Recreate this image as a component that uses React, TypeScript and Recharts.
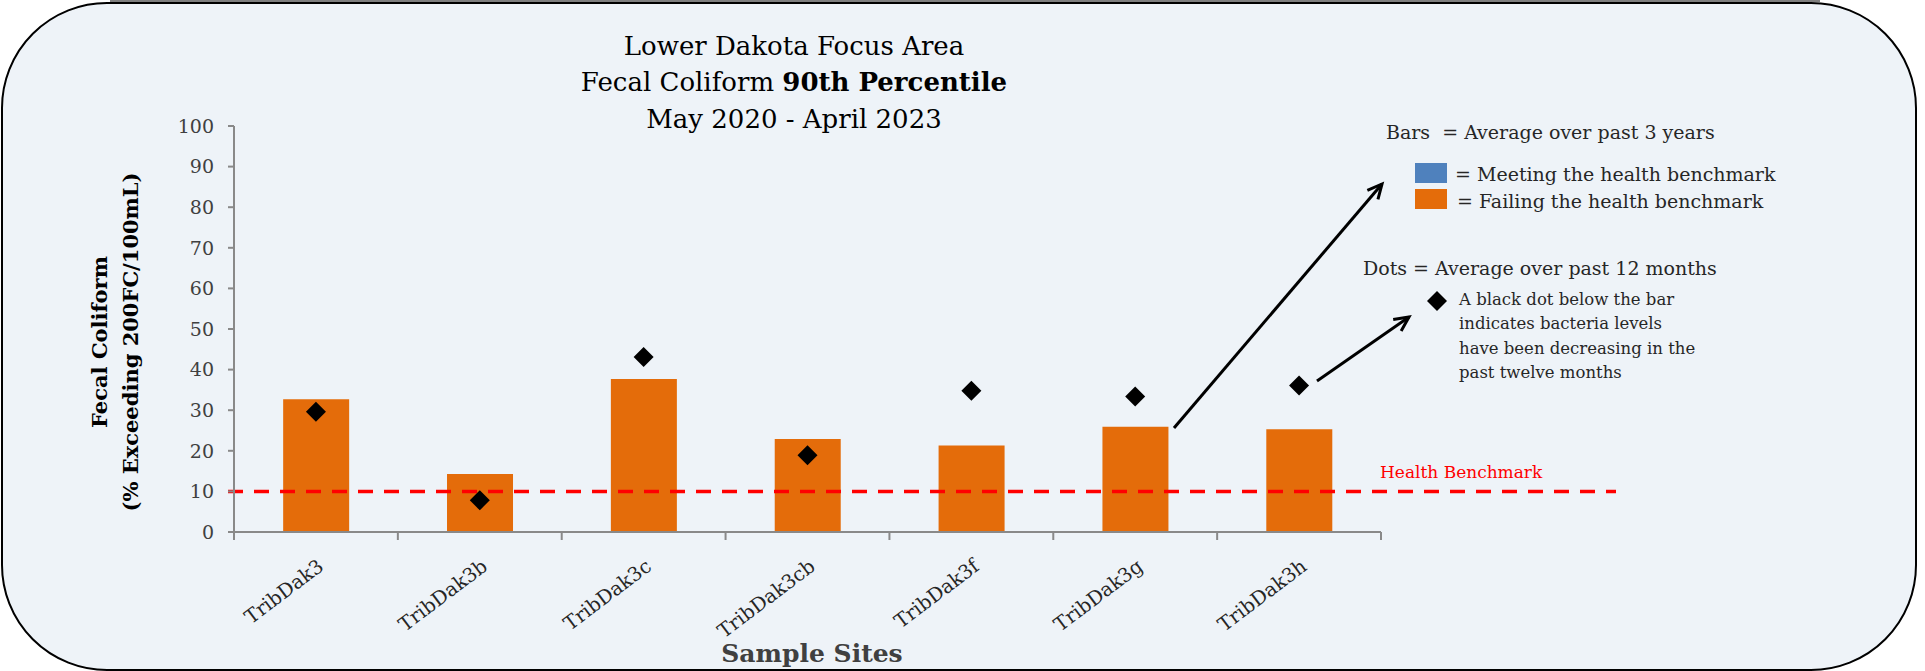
import React from "react";
import {
  ComposedChart,
  Bar,
  Scatter,
  XAxis,
  YAxis,
  ReferenceLine,
} from "recharts";

// sample sites along the x axis
const sites = [
  "TribDak3",
  "TribDak3b",
  "TribDak3c",
  "TribDak3cb",
  "TribDak3f",
  "TribDak3g",
  "TribDak3h",
];

// % exceeding 200FC/100mL, average over past 3 years (bars)
const threeYearAvg = [32.7, 14.3, 37.7, 22.9, 21.3, 25.9, 25.3];

// % exceeding 200FC/100mL, average over past 12 months (dots)
const twelveMonthAvg = [29.6, 7.8, 43.1, 18.9, 34.8, 33.4, 36.1];

const yTicks = [0, 10, 20, 30, 40, 50, 60, 70, 80, 90, 100];
const healthBenchmark = 10;

const data = sites.map((site, i) => ({
  site,
  bars: threeYearAvg[i],
  dots: twelveMonthAvg[i],
}));

const FONT = "'DejaVu Serif', serif";
const colors = {
  failing: "#E46C0A",
  meeting: "#4F81BD",
  axis: "#898989",
  text: "#404040",
  bench: "#FF0000",
  bg: "#EEF3F8",
};

const W = 1925;
const H = 671;

interface TickProps {
  x?: number;
  y?: number;
  index?: number;
  payload?: { value: string; offset?: number };
}

const SiteTick = ({ x = 0, y = 0, index = 0, payload }: TickProps) => {
  const off = payload?.offset ?? 0;
  const last = index === sites.length - 1;
  return (
    <g>
      <line x1={x - off} y1={y} x2={x - off} y2={y + 8} stroke={colors.axis} strokeWidth={2} />
      {last && (
        <line x1={x + off} y1={y} x2={x + off} y2={y + 8} stroke={colors.axis} strokeWidth={2} />
      )}
      <g transform={`translate(${x + 9},${y + 37}) rotate(-37)`}>
        <text
          x={0}
          y={0}
          textAnchor="end"
          fontFamily={FONT}
          fontSize={19.5}
          fill="#262626"
        >
          {payload?.value}
        </text>
      </g>
    </g>
  );
};

const Diamond = (props: { cx?: number; cy?: number }) => {
  const { cx = 0, cy = 0 } = props;
  const r = 10;
  return (
    <polygon
      points={`${cx},${cy - r} ${cx + r},${cy} ${cx},${cy + r} ${cx - r},${cy}`}
      fill="#000"
    />
  );
};

const BenchmarkLine = (props: { x1?: number; x2?: number; y1?: number }) => {
  const { x1 = 0, x2 = 0, y1 = 0 } = props;
  return (
    <g>
      <line
        x1={x1 - 6}
        y1={y1}
        x2={x2 + 235}
        y2={y1}
        stroke={colors.bench}
        strokeWidth={3.5}
        strokeDasharray="15 11"
      />
      <text x={x2 - 1} y={y1 - 13} fontFamily={FONT} fontSize={17} fill={colors.bench}>
        Health Benchmark
      </text>
    </g>
  );
};

function Arrow({ x1, y1, x2, y2 }: { x1: number; y1: number; x2: number; y2: number }) {
  const a = Math.atan2(y2 - y1, x2 - x1);
  const len = 16;
  const spread = 0.45;
  const p1 = [x2 - len * Math.cos(a - spread), y2 - len * Math.sin(a - spread)];
  const p2 = [x2 - len * Math.cos(a + spread), y2 - len * Math.sin(a + spread)];
  return (
    <g stroke="#000" strokeWidth={3} fill="none">
      <line x1={x1} y1={y1} x2={x2} y2={y2} />
      <polyline points={`${p1[0]},${p1[1]} ${x2},${y2} ${p2[0]},${p2[1]}`} />
    </g>
  );
}

export default function App() {
  return (
    <div style={{ position: "absolute", left: 0, top: 0, width: W, height: H, background: "#fff" }}>
      {/* rounded panel */}
      <svg width={W} height={H} style={{ position: "absolute", left: 0, top: 0 }}>
        <rect x={2} y={3} width={1914} height={667} rx={105} ry={105} fill={colors.bg} stroke="#000" strokeWidth={2} />
        <line x1={110} y1={1} x2={1820} y2={1} stroke="#555" strokeWidth={1.5} />
      </svg>

      <div style={{ position: "absolute", left: 0, top: 0 }}>
        <ComposedChart
          width={W}
          height={H}
          data={data}
          margin={{ top: 126, right: 544, bottom: 0, left: 0 }}
          barCategoryGap="30%"
        >
          <XAxis
            dataKey="site"
            height={139}
            interval={0}
            tickSize={0}
            tickMargin={0}
            tickLine={false}
            axisLine={{ stroke: colors.axis, strokeWidth: 2 }}
            tick={<SiteTick />}
          />
          <YAxis
            width={234}
            domain={[0, 100]}
            ticks={yTicks}
            interval={0}
            tickSize={6}
            tickMargin={14}
            axisLine={{ stroke: colors.axis, strokeWidth: 2 }}
            tickLine={{ stroke: colors.axis, strokeWidth: 2 }}
            tick={{ fontFamily: FONT, fontSize: 19, fill: colors.text }}
          />
          <Bar dataKey="bars" fill={colors.failing} isAnimationActive={false} />
          <ReferenceLine y={healthBenchmark} shape={<BenchmarkLine />} />
          <Scatter dataKey="dots" shape={<Diamond />} isAnimationActive={false} />
        </ComposedChart>
      </div>

      {/* titles, legend and annotations */}
      <svg width={W} height={H} style={{ position: "absolute", left: 0, top: 0, pointerEvents: "none" }}>
        <g fontFamily={FONT} fontSize={26} fill="#000" textAnchor="middle">
          <text x={794} y={55}>Lower Dakota Focus Area</text>
          <text x={794} y={91}>
            Fecal Coliform <tspan fontWeight="bold">90th Percentile</tspan>
          </text>
          <text x={794} y={128}>May 2020 - April 2023</text>
        </g>

        <g fontFamily={FONT} fontSize={21} fontWeight="bold" fill="#000" textAnchor="middle">
          <text transform="translate(107,342) rotate(-90)">Fecal Coliform</text>
          <text transform="translate(138,342) rotate(-90)">(% Exceeding 200FC/100mL)</text>
        </g>

        <text x={812} y={662} fontFamily={FONT} fontSize={25} fontWeight="bold" fill={colors.text} textAnchor="middle">
          Sample Sites
        </text>

        <g fontFamily={FONT} fontSize={19} fill="#262626">
          <text x={1386} y={139} xmlSpace="preserve">Bars  = Average over past 3 years</text>
          <rect x={1415} y={163} width={32} height={20} fill={colors.meeting} />
          <rect x={1415} y={189} width={32} height={20} fill={colors.failing} />
          <text x={1455} y={181}>= Meeting the health benchmark</text>
          <text x={1457} y={208}>= Failing the health benchmark</text>
          <text x={1363} y={275}>Dots = Average over past 12 months</text>
        </g>
        <Diamond cx={1437} cy={301} />
        <g fontFamily={FONT} fontSize={16.5} fill="#262626">
          <text x={1459} y={305}>A black dot below the bar</text>
          <text x={1459} y={329}>indicates bacteria levels</text>
          <text x={1459} y={354}>have been decreasing in the</text>
          <text x={1459} y={378}>past twelve months</text>
        </g>

        <Arrow x1={1174} y1={428} x2={1382} y2={184} />
        <Arrow x1={1317} y1={381} x2={1409} y2={317} />
      </svg>
    </div>
  );
}
